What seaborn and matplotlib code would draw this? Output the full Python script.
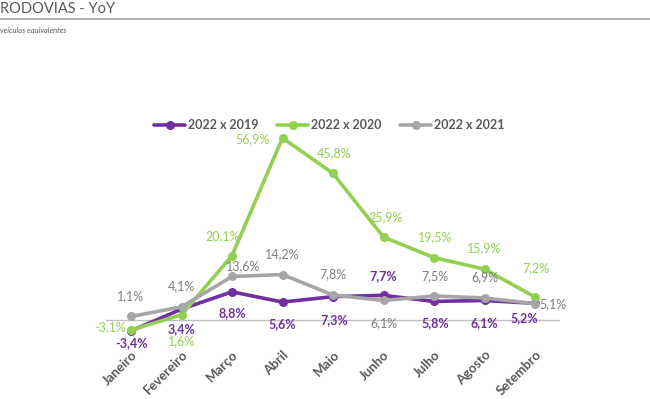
import matplotlib
matplotlib.use("Agg")
import matplotlib.pyplot as plt
import seaborn as sns
import pandas as pd
from matplotlib.lines import Line2D

months = ["Janeiro", "Fevereiro", "Março", "Abril", "Maio", "Junho", "Julho", "Agosto", "Setembro"]
series_names = ["2022 x 2019", "2022 x 2020", "2022 x 2021"]
v2019 = [-3.4, 3.4, 8.8, 5.6, 7.3, 7.7, 5.8, 6.1, 5.2]
v2020 = [-3.1, 1.6, 20.1, 56.9, 45.8, 25.9, 19.5, 15.9, 7.2]
v2021 = [1.1, 4.1, 13.6, 14.2, 7.8, 6.1, 7.5, 6.9, 5.1]

colors = ["#7030A0", "#92D050", "#A6A6A6"]
label_colors = ["#7030A0", "#92D050", "#7F7F7F"]

# label offsets in pixels (dx, dy), one list per series
off2019 = [(0, -12), (0, -20), (0, -21), (0, -22), (1, -23), (0, 19), (1, -22), (0, -23), (-11, -15)]
off2020 = [(-21, 3), (0, -26), (-9, 20), (-30, -1), (1, 20), (2, 20), (1, 20), (0, 21), (1, 29)]
off2021 = [(0, 20), (0, 21), (11, 10), (0, 20), (0, 21), (0, -23), (1, 20), (0, 21), (18, 0)]

sns.set_theme(style="white")
plt.rcParams['font.family'] = ['Lato', 'DejaVu Sans']

df = pd.DataFrame({
    "idx": list(range(len(months))) * 3,
    "value": v2019 + v2020 + v2021,
    "series": [series_names[0]] * 9 + [series_names[1]] * 9 + [series_names[2]] * 9,
})

fig = plt.figure(figsize=(6.5, 3.99), dpi=100)
ax = fig.add_axes([105.75 / 650, (399 - 345.6) / 399, 454.5 / 650, 233.6 / 399])

for i, name in enumerate(series_names):
    sub = df[df["series"] == name]
    sns.lineplot(data=sub, x="idx", y="value", ax=ax, color=colors[i], linewidth=2.6,
                 marker="o", markersize=6.5, markeredgewidth=0, sort=False, legend=False,
                 zorder=3 + i)

vals = [v2019, v2020, v2021]
offs = [off2019, off2020, off2021]
for i in range(3):
    for j, v in enumerate(vals[i]):
        dx, dy = offs[i][j]
        ax.annotate(f"{v:.1f}%".replace(".", ","), (j, v), xytext=(dx, dy),
                    textcoords="offset pixels", ha="center", va="center",
                    fontsize=9, color=label_colors[i],
                    fontweight="bold" if i == 0 else "normal", zorder=10)

ax.set_xlim(-0.5, 8.5)
ax.set_ylim(-8, 65)
ax.axhline(0, color="#BFBFBF", linewidth=1.0, zorder=1)
for s in ax.spines.values():
    s.set_visible(False)
ax.set_yticks([])
ax.set_xticks(range(len(months)))
ax.set_xticklabels(months, rotation=45, ha="right", va="top", rotation_mode="anchor",
                   fontsize=9.5, fontweight="bold", color="#595959")
ax.tick_params(axis="x", length=0, pad=2)
ax.set_xlabel("")
ax.set_ylabel("")

handles = [Line2D([0], [0], color=c, linewidth=2.6, marker="o", markersize=6.5, markeredgewidth=0)
           for c in colors]
leg = fig.legend(handles, series_names, loc="center", bbox_to_anchor=(329 / 650, 1 - 125 / 399),
                 ncol=3, frameon=False, fontsize=9, handlelength=2.5, columnspacing=1.5,
                 handletextpad=0.2, borderpad=0.1)
for t in leg.get_texts():
    t.set_color("#595959")
    t.set_fontweight("bold")

fig.text(0.0, 1 - 9 / 399, "RODOVIAS - YoY", fontsize=10.5, color="#595959", ha="left", va="center")
fig.add_artist(Line2D([0, 1], [1 - 19 / 399, 1 - 19 / 399], color="#A6A6A6", linewidth=1.2,
                      transform=fig.transFigure))
fig.text(0.0, 1 - 30 / 399, "veículos equivalentes", fontsize=5.5, style="italic",
         color="#595959", ha="left", va="center")

fig.savefig("out.png", dpi=100)
